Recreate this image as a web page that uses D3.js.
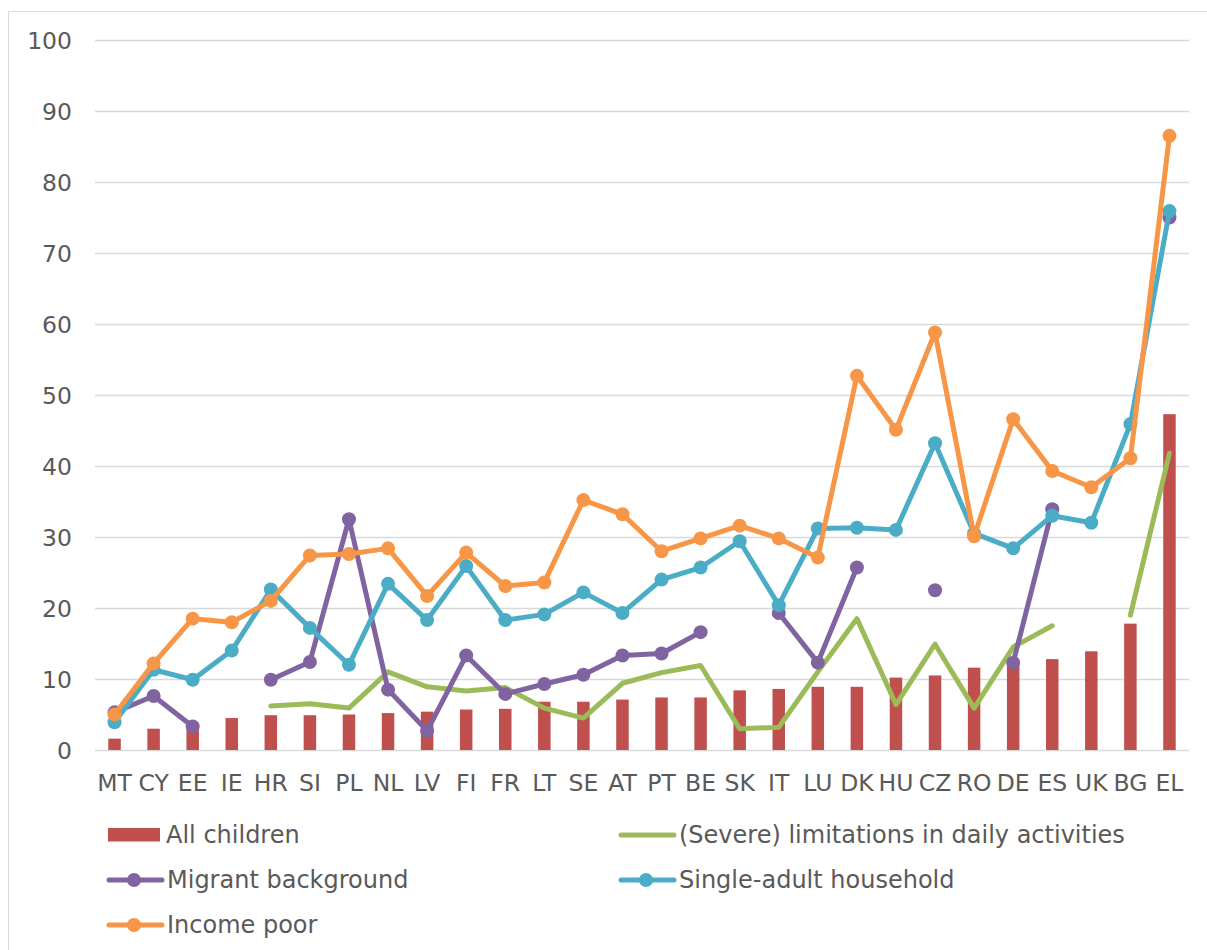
<!DOCTYPE html>
<html>
<head>
<meta charset="utf-8">
<script src="https://cdn.jsdelivr.net/npm/d3@7"></script>
<style>
  html, body { margin: 0; padding: 0; background: #fff; }
  svg { display: block; }
  text { font-family: "DejaVu Sans", Verdana, sans-serif; fill: #595959; }
</style>
</head>
<body>
<svg id="chart" width="1207" height="950"></svg>
<script>
const categories = ["MT","CY","EE","IE","HR","SI","PL","NL","LV","FI","FR","LT","SE","AT","PT","BE","SK","IT","LU","DK","HU","CZ","RO","DE","ES","UK","BG","EL"];
const allChildren = [1.6,3.0,3.2,4.5,4.9,4.9,5.0,5.2,5.4,5.7,5.8,6.8,6.8,7.1,7.4,7.4,8.4,8.6,8.9,8.9,10.2,10.5,11.6,12.3,12.8,13.9,17.8,47.3];
const limitations = [null,null,null,null,6.2,6.5,5.9,11.0,8.9,8.3,8.8,5.9,4.5,9.4,10.9,11.9,3.0,3.2,11.0,18.5,6.4,14.9,5.9,14.5,17.5,null,19.0,41.8];
const migrant = [5.3,7.6,3.3,null,9.9,12.4,32.5,8.5,2.7,13.3,7.9,9.3,10.6,13.3,13.6,16.6,null,19.3,12.3,25.7,null,22.5,null,12.3,33.9,null,null,75.0];
const singleAdult = [3.9,11.3,9.9,14.0,22.6,17.2,12.0,23.4,18.3,25.9,18.3,19.1,22.2,19.3,24.0,25.7,29.4,20.4,31.2,31.3,31.0,43.2,30.5,28.4,33.0,32.0,45.9,75.9];
const incomePoor = [5.0,12.2,18.5,18.0,21.0,27.4,27.6,28.4,21.7,27.8,23.1,23.6,35.2,33.2,28.0,29.8,31.6,29.8,27.1,52.7,45.1,58.8,30.1,46.6,39.3,37.0,41.1,86.5];
const yTicks = [0,10,20,30,40,50,60,70,80,90,100];
const legendLabels = ["All children","(Severe) limitations in daily activities","Migrant background","Single-adult household","Income poor"];

const colors = {
  bar: "#C0504D", limit: "#9BBB59", migrant: "#8064A2", single: "#4BACC6", income: "#F79646"
};
const FONT = 23.5;
const LEGEND_FONT = 24;

const svg = d3.select("#chart");

// outer frame
svg.append("line").attr("x1",8.5).attr("x2",8.5).attr("y1",11.5).attr("y2",950).attr("stroke","#d9d9d9").attr("stroke-width",1);
svg.append("line").attr("x1",8.5).attr("x2",1207).attr("y1",11.5).attr("y2",11.5).attr("stroke","#d9d9d9").attr("stroke-width",1);

const plotLeft = 95, plotRight = 1189;
const x = d3.scaleBand().domain(categories).range([plotLeft, plotRight]).paddingInner(0).paddingOuter(0);
const y = d3.scaleLinear().domain([0,100]).range([750, 40]);
const cx = c => x(c) + x.bandwidth()/2;

// gridlines
svg.append("g").selectAll("line").data(yTicks).join("line")
  .attr("x1", plotLeft).attr("x2", plotRight)
  .attr("y1", d => Math.round(y(d)) + 0.5).attr("y2", d => Math.round(y(d)) + 0.5)
  .attr("stroke", "#d9d9d9").attr("stroke-width", 1.5);

// y axis labels
const yAxis = d3.axisLeft(y).tickValues(yTicks).tickSize(0).tickPadding(0);
const yg = svg.append("g").attr("transform", "translate(72,0)").call(yAxis);
yg.select(".domain").remove();
yg.selectAll("text").attr("font-size", FONT).attr("fill", "#595959").attr("dy", "0.35em")
  .style("font-family", '"DejaVu Sans", Verdana, sans-serif');

// x axis labels
const xAxis = d3.axisBottom(x).tickSize(0).tickPadding(0);
const xg = svg.append("g").attr("transform", "translate(0,783)").call(xAxis);
xg.select(".domain").remove();
xg.selectAll("text").attr("font-size", FONT).attr("fill", "#595959").attr("dy", "0.35em")
  .style("font-family", '"DejaVu Sans", Verdana, sans-serif');

// bars
const barW = 12.5;
svg.append("g").selectAll("rect").data(categories).join("rect")
  .attr("x", (c) => cx(c) - barW/2)
  .attr("width", barW)
  .attr("y", (c,i) => y(allChildren[i]))
  .attr("height", (c,i) => y(0) - y(allChildren[i]))
  .attr("fill", colors.bar);

function drawLine(values, color, markers) {
  const pts = categories.map((c,i) => ({c, v: values[i]}));
  const line = d3.line().defined(d => d.v !== null).x(d => cx(d.c)).y(d => y(d.v));
  svg.append("path").datum(pts).attr("d", line)
    .attr("fill", "none").attr("stroke", color).attr("stroke-width", 5)
    .attr("stroke-linejoin", "round").attr("stroke-linecap", "round");
  if (markers) {
    svg.append("g").selectAll("circle").data(pts.filter(d => d.v !== null)).join("circle")
      .attr("cx", d => cx(d.c)).attr("cy", d => y(d.v)).attr("r", 7).attr("fill", color);
  }
}

drawLine(limitations, colors.limit, false);
drawLine(migrant, colors.migrant, true);
drawLine(singleAdult, colors.single, true);
drawLine(incomePoor, colors.income, true);

// legend
const legendItems = [
  {label: legendLabels[0], type: "bar", color: colors.bar, x: 108, y: 835},
  {label: legendLabels[1], type: "line", color: colors.limit, x: 620, y: 835},
  {label: legendLabels[2], type: "marker", color: colors.migrant, x: 108, y: 880},
  {label: legendLabels[3], type: "marker", color: colors.single, x: 620, y: 880},
  {label: legendLabels[4], type: "marker", color: colors.income, x: 108, y: 925}
];
const lg = svg.append("g").selectAll("g").data(legendItems).join("g")
  .attr("transform", d => `translate(${d.x},${d.y})`);
lg.each(function(d) {
  const g = d3.select(this);
  if (d.type === "bar") {
    g.append("rect").attr("x", 0).attr("y", -7).attr("width", 52).attr("height", 13.5).attr("fill", d.color);
  } else {
    g.append("line").attr("x1", 1).attr("x2", 54).attr("y1", 0).attr("y2", 0)
      .attr("stroke", d.color).attr("stroke-width", 5).attr("stroke-linecap", "round");
    if (d.type === "marker") g.append("circle").attr("cx", 26).attr("cy", 0).attr("r", 7).attr("fill", d.color);
  }
  g.append("text").attr("x", d.type === "bar" ? 58 : 59).attr("y", 0).attr("dy", "0.35em")
    .attr("font-size", LEGEND_FONT).text(d.label);
});
</script>
</body>
</html>
